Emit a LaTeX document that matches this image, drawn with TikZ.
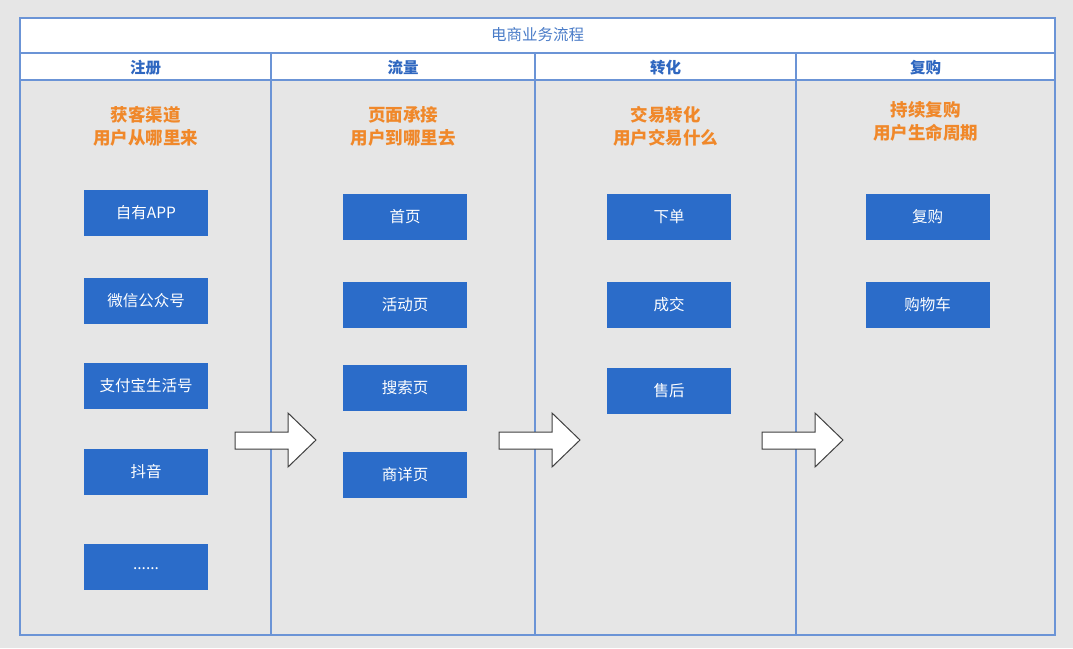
\documentclass[tikz,border=0pt]{standalone}
\usepackage{fontspec}
\usepackage{tikz}
\newfontfamily\cjk{Noto Sans CJK SC}
\definecolor{pagegray}{HTML}{E6E6E6}
\definecolor{frameblue}{HTML}{6B94D6}
\definecolor{boxblue}{HTML}{2B6CC9}
\definecolor{headblue}{HTML}{2F67C0}
\definecolor{titleblue}{HTML}{4A7CC8}
\definecolor{goalorange}{HTML}{F0882A}

\begin{document}
\begin{tikzpicture}[x=1pt,y=-1pt,
  stepbox/.style={fill=boxblue,draw=none,minimum width=124pt,minimum height=46pt,inner sep=0pt,
    text=white,font=\cjk\fontsize{15.5}{17}\selectfont},
  lanehead/.style={text=headblue,font=\cjk\bfseries\fontsize{15.5}{17}\selectfont},
  goaltext/.style={text=goalorange,align=center,font=\cjk\bfseries\fontsize{17.5}{23}\selectfont},
  bigarrow/.style={draw=black!75,fill=white,line width=1pt,line join=miter}]

% page and frame
\fill[pagegray] (0,0) rectangle (1073,648);
\fill[white] (20,18) rectangle (1055,80);
\draw[frameblue,line width=1.4pt] (20,18) rectangle (1055,635);
\draw[frameblue,line width=1.4pt] (20,53) -- (1055,53);
\draw[frameblue,line width=1.4pt] (20,80) -- (1055,80);

% lane dividers
\draw[frameblue,line width=1.4pt] (271,53) -- (271,635);
\draw[frameblue,line width=1.4pt] (535,53) -- (535,635);
\draw[frameblue,line width=1.4pt] (796,53) -- (796,635);

% title and lane headers
\node[text=titleblue,font=\cjk\fontsize{15.5}{17}\selectfont] (title) at (537.5,35) {电商业务流程};
\node[lanehead] (reg) at (145.5,68) {注册};
\node[lanehead] (flow) at (403,68) {流量};
\node[lanehead] (conv) at (665.5,68) {转化};
\node[lanehead] (rebuy) at (925.5,68) {复购};

% lane goals
\node[goaltext] (goalreg) at (145.5,126) {获客渠道\\用户从哪里来};
\node[goaltext] (goalflow) at (403,126) {页面承接\\用户到哪里去};
\node[goaltext] (goalconv) at (665.5,126) {交易转化\\用户交易什么};
\node[goaltext] (goalrebuy) at (925.5,121.5) {持续复购\\用户生命周期};

% registration channels
\node[stepbox] (app) at (146,213) {自有APP};
\node[stepbox] (wechat) at (146,301) {微信公众号};
\node[stepbox] (alipay) at (146,386) {支付宝生活号};
\node[stepbox] (douyin) at (146,472) {抖音};
\node[stepbox] (more) at (146,567) {\raisebox{-6pt}{......}};

% traffic pages
\node[stepbox] (home) at (405,217) {首页};
\node[stepbox] (event) at (405,305) {活动页};
\node[stepbox] (search) at (405,388) {搜索页};
\node[stepbox] (detail) at (405,475) {商详页};

% conversion
\node[stepbox] (order) at (669,217) {下单};
\node[stepbox] (deal) at (669,305) {成交};
\node[stepbox] (after) at (669,391) {售后};

% repurchase
\node[stepbox] (again) at (927.5,217) {复购};
\node[stepbox] (cart) at (927.5,305) {购物车};

% block arrows between lanes
\draw[bigarrow] (235,432) -- (288,432) -- (288,413) -- (316,440) -- (288,467) -- (288,449) -- (235,449) -- cycle;
\draw[bigarrow] (499,432) -- (552,432) -- (552,413) -- (580,440) -- (552,467) -- (552,449) -- (499,449) -- cycle;
\draw[bigarrow] (762,432) -- (815,432) -- (815,413) -- (843,440) -- (815,467) -- (815,449) -- (762,449) -- cycle;

\end{tikzpicture}
\end{document}
